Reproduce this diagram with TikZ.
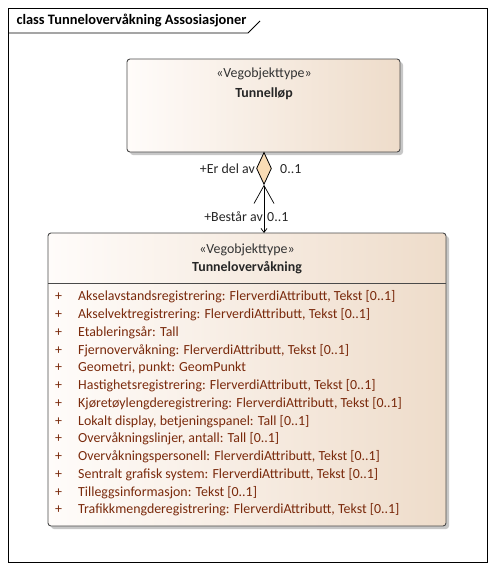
\documentclass[tikz,border=0pt]{standalone}
\usepackage{fontspec}
\setmainfont{Carlito}
\usetikzlibrary{shapes.geometric,arrows.meta,shadows}
\definecolor{boxline}{HTML}{4A4A4A}
\definecolor{boxleft}{HTML}{FFFCFA}
\definecolor{boxright}{HTML}{EEDCCA}
\definecolor{attrcol}{HTML}{7A2A0C}
\definecolor{aggfill}{HTML}{F9DCB5}

\begin{document}
\begin{tikzpicture}[x=1pt,y=-1pt]
\tikzstyle{classbox}=[rectangle,rounded corners=3pt,draw=boxline,line width=0.9pt,
  left color=boxleft,right color=boxright,inner sep=0pt,outer sep=0pt,anchor=north west,
  drop shadow={shadow xshift=3pt,shadow yshift=-3pt,fill=black!22,opacity=1}]
\tikzstyle{stereo}=[font=\fontsize{13.9}{15}\selectfont,text=black!80]
\tikzstyle{cname}=[font=\fontsize{13.9}{15}\selectfont\bfseries,text=black!85]
\tikzstyle{attr}=[font=\fontsize{13.9}{15}\selectfont,text=attrcol,anchor=west,inner sep=0pt]
\tikzstyle{rolelbl}=[font=\fontsize{13.9}{15}\selectfont,text=black!85,inner sep=0pt]
\useasboundingbox (0,0) rectangle (495,570);
% frame
\draw[line width=0.9pt] (8,8) rectangle (487,562);
\node[anchor=west,font=\fontsize{14.4}{16}\selectfont\bfseries] (title) at (13,21) {class Tunnelovervåkning Assosiasjoner};
\draw[line width=0.9pt] (8,33) -- (248,33) -- (260,21);
% classes
\node[classbox,minimum width=273pt,minimum height=93pt] (tunnellop) at (127,59) {};
\node[stereo] (st1) at (264,74) {«Vegobjekttype»};
\node[cname] (nm1) at (264,94) {Tunnelløp};
\node[classbox,minimum width=398pt,minimum height=293pt] (ovv) at (48,233) {};
\node[stereo] (st2) at (247,250) {«Vegobjekttype»};
\node[cname] (nm2) at (247,268) {Tunnelovervåkning};
\draw[boxline,line width=0.9pt] (48,283) -- (446,283);
\foreach \txt [count=\i] in {
  {Akselavstandsregistrering: FlerverdiAttributt, Tekst [0..1]},
  {Akselvektregistrering: FlerverdiAttributt, Tekst [0..1]},
  {Etableringsår: Tall},
  {Fjernovervåkning: FlerverdiAttributt, Tekst [0..1]},
  {Geometri, punkt: GeomPunkt},
  {Hastighetsregistrering: FlerverdiAttributt, Tekst [0..1]},
  {Kjøretøylengderegistrering: FlerverdiAttributt, Tekst [0..1]},
  {Lokalt display, betjeningspanel: Tall [0..1]},
  {Overvåkningslinjer, antall: Tall [0..1]},
  {Overvåkningspersonell: FlerverdiAttributt, Tekst [0..1]},
  {Sentralt grafisk system: FlerverdiAttributt, Tekst [0..1]},
  {Tilleggsinformasjon: Tekst [0..1]},
  {Trafikkmengderegistrering: FlerverdiAttributt, Tekst [0..1]}}
{
  \node[attr] (plus\i) at (55,297+17.75*\i-17.75) {+};
  \node[attr] (attr\i) at (78,297+17.75*\i-17.75) {\txt};
}
% association
\node[diamond,draw=black,fill=aggfill,line width=0.8pt,aspect=0.47,minimum width=15pt,
  minimum height=32pt,inner sep=0pt,anchor=north] (agg) at (tunnellop.south -| 264,0) {};
\draw[line width=0.7pt,{Straight Barb[length=18pt,width=20pt]}-{Straight Barb[length=4pt,width=6pt]}]
  (agg.south) -- (agg.south |- ovv.north);
\node[rolelbl,anchor=east] (erdelav) at (255,169) {+Er del av};
\node[rolelbl,anchor=west] (mult1) at (280,169) {0..1};
\node[rolelbl,anchor=east] (bestar) at (263,217) {+Består av};
\node[rolelbl,anchor=west] (mult2) at (267,217) {0..1};
\end{tikzpicture}
\end{document}
